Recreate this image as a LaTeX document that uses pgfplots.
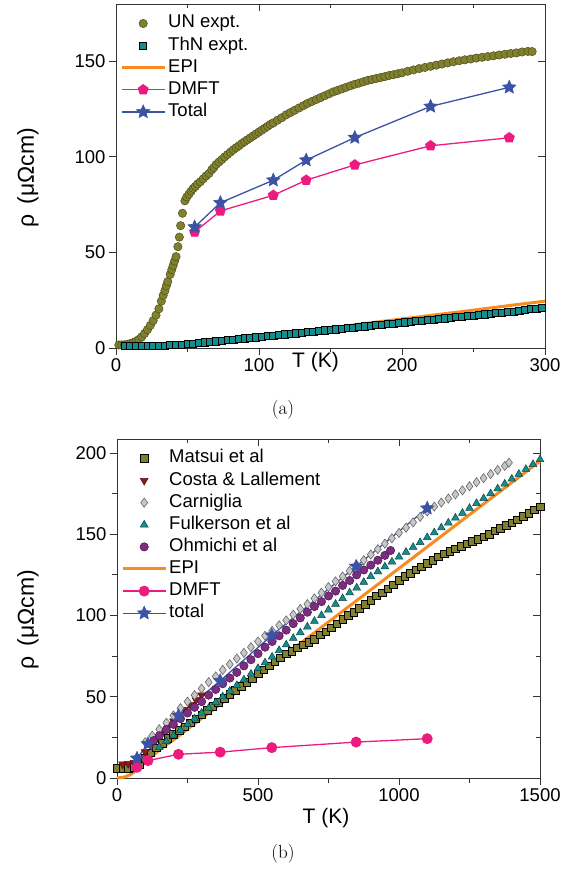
\documentclass[border=0pt]{standalone}
\usepackage{fontspec}
\setsansfont{Liberation Sans}
\usepackage{pgfplots}
\pgfplotsset{compat=1.18}
\definecolor{olive1}{HTML}{80802F}
\definecolor{olive1e}{HTML}{4F4F1C}
\definecolor{teal1}{HTML}{168C8C}
\definecolor{epi}{HTML}{F68B1F}
\definecolor{dmft}{HTML}{EC1C7E}
\definecolor{tot}{HTML}{3A53A4}
\definecolor{costa}{HTML}{8B1A1A}
\definecolor{carn}{HTML}{C8C8C8}
\definecolor{purp}{HTML}{7E2B82}
\pgfdeclareplotmark{fstar}{%
  \pgfpathmoveto{\pgfpointpolar{90}{\pgfplotmarksize}}%
  \pgfpathlineto{\pgfpointpolar{126}{0.47\pgfplotmarksize}}%
  \pgfpathlineto{\pgfpointpolar{162}{\pgfplotmarksize}}%
  \pgfpathlineto{\pgfpointpolar{198}{0.47\pgfplotmarksize}}%
  \pgfpathlineto{\pgfpointpolar{234}{\pgfplotmarksize}}%
  \pgfpathlineto{\pgfpointpolar{270}{0.47\pgfplotmarksize}}%
  \pgfpathlineto{\pgfpointpolar{306}{\pgfplotmarksize}}%
  \pgfpathlineto{\pgfpointpolar{342}{0.47\pgfplotmarksize}}%
  \pgfpathlineto{\pgfpointpolar{18}{\pgfplotmarksize}}%
  \pgfpathlineto{\pgfpointpolar{54}{0.47\pgfplotmarksize}}%
  \pgfpathclose
  \pgfusepathqfillstroke}
\pgfplotsset{
  myaxis/.style={
    scale only axis,
    clip=false,
    axis line style={line width=0.9pt, black!80},
    every tick/.style={line width=0.9pt, black!80},
    major tick length=7pt, minor tick length=4.5pt,
    tick align=outside,
    xtick pos=bottom, ytick pos=left,
    tick label style={font=\sffamily\fontsize{18.5}{18.5}\selectfont},
    /pgf/number format/assume math mode=true,
    /pgf/number format/1000 sep={},
    label style={font=\sffamily\fontsize{21}{21}\selectfont},
    ylabel style={font=\sffamily\fontsize{23}{23}\selectfont},
    legend style={draw=none, fill=none, inner xsep=0pt, inner ysep=0pt,
      at={(axis description cs:0,1)}, anchor=north west, xshift=4pt, yshift=-9pt,
      font=\sffamily\fontsize{18.5}{18.5}\selectfont,
      nodes={inner sep=2pt, text height=12.8pt, text depth=3.8pt},
      row sep=1.5pt},
    legend cell align=left,
    legend image code/.code={\draw[mark repeat=2,mark phase=2,#1] plot coordinates {(0pt,0pt) (21.5pt,0pt) (43pt,0pt)};},
  },
  mirror/.style={
    scale only axis,
    axis line style={draw=none},
    every tick/.style={line width=0.9pt, black!80},
    major tick length=7pt, minor tick length=4.5pt,
    tick align=inside,
    xtick pos=top, ytick pos=right,
    xticklabels={}, yticklabels={},
  },
}
\begin{document}
\begin{tikzpicture}
\path[use as bounding box] (0,0) rectangle (577pt,869pt);
% ---------------- panel (a) ----------------
\begin{axis}[myaxis, at={(116pt,521pt)}, anchor=south west,
  width=429pt, height=344pt,
  xmin=0, xmax=300, ymin=0, ymax=180,
  xtick={0,100,200,300}, ytick={0,50,100,150},
  minor x tick num=1,
  xlabel={T (K)}, ylabel={ρ\hspace{0.45em}(μΩcm)},
  xlabel style={at={(axis description cs:0.465,0)}, anchor=center, yshift=-14.5pt},
  ylabel style={at={([xshift=-88pt]axis description cs:0,0.494)}, anchor=center},
]
\addplot[only marks, mark=*, mark size=4.2pt, mark options={fill=olive1, draw=olive1e, line width=0.5pt}] coordinates {
(2,1.6)(4,1.6)(6,1.7)(8,1.9)(10,2.3)(12,2.8)(14,3.5)(16,4.5)(18,5.8)(20,7.6)(22,9.6)(24,11.8)(26,14.3)(28,17.2)(30,20.5)(31.7,24.5)(33,27.5)(34.2,30)(35.2,32.5)(36.2,34.8)(37.9,38.5)(39,41)(40,43.2)(41,45.5)(42,47.8)(43.3,53)(44.3,58)(45.2,64)(46.5,70.5)(48.2,77)(49.5,79)(51,80.5)(52.5,82)(54,83.5)(55.5,84.5)(57,85.8)(59,87)(61,88.5)(63,90)(65,91.3)(67,93.3)(68.5,94.5)(70,96)(72,97.3)(74,98.6)(76,100)(78,101.2)(80,102.5)(82,103.7)(84,104.8)(86,105.8)(88,107)(90,108)(92,109)(94,110)(96,111)(98,112)(100,113)(102,114)(104,115)(106,116)(108,117)(110,117.8)(113,119.2)(116,120.5)(119,122)(122,123.2)(125,124.4)(128,125.6)(131,126.8)(134,128)(137,129)(140,130)(143,131)(146,132)(149,133)(152,134)(155,134.8)(158,135.6)(161,136.4)(164,137.2)(167,138)(170,138.6)(173,139.3)(176,140)(179,140.5)(182,141)(185,141.5)(188,142)(191,142.6)(194,143)(197,143.5)(200,144)(204,144.8)(208,145.5)(212,146.2)(216,146.8)(220,147.4)(224,148)(228,148.6)(232,149.2)(236,149.8)(240,150.3)(244,150.8)(248,151.2)(252,151.7)(256,152.1)(260,152.5)(264,152.9)(268,153.3)(272,153.7)(276,154.1)(280,154.4)(284,154.9)(288,155.2)(291,155.1)
};
\addlegendentry{UN expt.}
\addplot[only marks, mark=square*, mark size=3.6pt, mark options={fill=teal1, draw=black, line width=0.7pt}] coordinates {
(6,1.0)(10,1.0)(14,1.0)(18,1.0)(22,1.1)(26,1.1)(30,1.2)(34,1.3)(38,1.5)(42,1.6)(46,1.8)(50,2.0)(54,2.3)(58,2.6)(62,2.9)(66,3.2)(70,3.5)(74,3.8)(78,4.1)(82,4.4)(86,4.7)(90,5.0)(94,5.3)(98,5.6)(102,5.9)(106,6.2)(110,6.4)(114,6.8)(118,7.1)(122,7.4)(126,7.7)(130,8.0)(134,8.3)(138,8.5)(142,8.9)(146,9.2)(150,9.5)(154,9.8)(158,10.1)(162,10.4)(166,10.6)(170,11.0)(174,11.3)(178,11.6)(182,11.9)(186,12.2)(190,12.5)(194,12.8)(198,13.0)(202,13.4)(206,13.7)(210,14.0)(214,14.3)(218,14.6)(222,14.9)(226,15.2)(230,15.5)(234,15.8)(238,16.1)(242,16.4)(246,16.8)(250,17.0)(254,17.3)(258,17.6)(262,17.9)(266,18.2)(270,18.5)(274,18.8)(278,19.1)(282,19.5)(286,19.9)(290,20.3)(294,20.6)(298,20.9)
};
\addlegendentry{ThN expt.}
\addplot[epi, line width=3pt] coordinates {
(10,0)(20,0.05)(30,0.3)(40,0.9)(50,1.7)(60,2.5)(70,3.4)(80,4.2)(90,5.0)(100,5.9)(125,8.2)(150,10.5)(175,12.9)(200,15.2)(225,17.5)(250,19.8)(275,22.2)(300,24.5)
};
\addlegendentry{EPI}
\addplot[dmft, line width=1.3pt, mark=pentagon*, mark size=5pt, mark options={fill=dmft, draw=dmft}] coordinates {
(55,60.7)(73,71.7)(110,79.9)(133,87.8)(167,95.8)(220,105.8)(275,110)
};
\addlegendentry{DMFT}
\addplot[tot, line width=1.3pt, mark=fstar, mark size=7pt, mark options={fill=tot, draw=tot, line width=0.6pt}] coordinates {
(55,63.3)(73,76)(110,87.8)(133,98.3)(167,110.1)(220,126.4)(275,136.4)
};
\addlegendentry{Total}
\end{axis}
\begin{axis}[mirror, at={(116pt,521pt)}, anchor=south west,
  width=429pt, height=344pt,
  xmin=0, xmax=300, ymin=0, ymax=180,
  xtick={0,100,200,300}, ytick={0,50,100,150}, minor x tick num=1]
\end{axis}
\node[font=\rmfamily\fontsize{19}{19}\selectfont] at (283pt,459pt) {(a)};
% ---------------- panel (b) ----------------
\begin{axis}[myaxis, at={(117pt,91pt)}, anchor=south west,
  width=423pt, height=339pt,
  xmin=0, xmax=1500, ymin=0, ymax=208.6,
  xtick={0,500,1000,1500}, ytick={0,50,100,150,200},
  minor x tick num=1, minor y tick num=1,
  xlabel={T (K)}, ylabel={ρ\hspace{0.45em}(μΩcm)},
  xlabel style={at={(axis description cs:0.494,0)}, anchor=center, yshift=-40pt},
  ylabel style={at={([xshift=-89pt]axis description cs:0,0.466)}, anchor=center},
]
\addplot[only marks, mark=square*, mark size=3.8pt, mark options={fill=olive1, draw=black, line width=0.6pt}] coordinates {
(0,5.8)(20,5.8)(40,6)(60,6.5)(80,8)(100,12)(120,15.5)(140,18.5)(160,21.5)(180,24.5)(200,27)(220,29.5)(240,31.5)(260,34)(280,36.5)(300,39)(320,41.5)(340,44)(360,46.5)(380,49)(400,51.5)(420,54)(440,56.5)(460,59)(480,61.5)(500,64)(520,66.5)(540,69)(560,71.5)(580,74)(600,76.5)(620,78)(640,80)(660,82)(680,83.5)(700,85.5)(720,88)(740,90)(760,92.5)(780,95)(800,97.5)(820,100)(840,102)(860,104.5)(880,107)(900,109.5)(920,112)(940,114)(960,116.5)(980,119)(1000,121.5)(1020,124)(1040,126)(1060,128)(1080,130)(1100,132)(1120,134)(1140,136)(1160,138)(1180,139.5)(1200,141)(1220,142.5)(1240,144)(1260,145.5)(1280,147)(1300,148.5)(1320,150)(1340,152)(1360,153.5)(1380,155.5)(1400,157)(1420,159)(1440,161)(1460,163)(1480,165)(1500,167)
};
\addlegendentry{Matsui et al}
\addplot[only marks, mark=triangle*, mark size=4.5pt, mark options={rotate=180, fill=costa, draw=costa!60!black, line width=0.5pt}] coordinates {
(20,8.5)(40,8.8)(60,9.5)(80,12)(100,16)(120,20)(140,24)(160,28)(180,31.5)(200,35)(220,38.5)(240,42)(260,45)(280,48)(300,51)
};
\addlegendentry{Costa \& Lallement}
\addplot[only marks, mark=diamond*, mark size=4.6pt, mark options={fill=carn, draw=black!60, line width=0.6pt}] coordinates {
(100,22)(125,26)(150,30)(175,34)(200,38.5)(225,43)(250,47)(275,51)(300,55)(325,59)(350,62.5)(375,66.5)(400,70)(425,73.5)(450,77)(475,80.5)(500,84)(525,87.5)(550,90.5)(575,94)(600,97)(625,100.5)(650,104)(675,107)(700,110.5)(725,114)(750,117.5)(775,121)(800,124)(825,127.5)(850,131)(875,134)(900,137.5)(925,140.8)(950,144.2)(975,147.5)(1000,150.8)(1025,154)(1050,157.3)(1075,160.7)(1100,164)(1125,167)(1150,169.5)(1175,172)(1200,174.5)(1225,177)(1250,179.5)(1275,182)(1300,184.5)(1325,187)(1350,189.5)(1375,192)(1390,194)
};
\addlegendentry{Carniglia}
\addplot[only marks, mark=triangle*, mark size=4.5pt, mark options={fill=teal1, draw=teal1!50!black, line width=0.5pt}] coordinates {
(150,19)(175,22.5)(200,26)(225,29.5)(250,33)(275,36.5)(300,40)(325,43)(350,46.5)(375,50)(400,53.5)(425,57)(450,60.5)(475,64)(500,67.5)(525,71)(550,74.5)(575,78.5)(600,82)(625,86)(650,89.5)(675,93)(700,96.5)(725,100)(750,103.5)(775,107)(800,110.5)(825,114)(850,117)(875,120.5)(900,124)(925,127)(950,130)(975,133)(1000,136)(1025,139)(1050,142)(1075,145)(1100,148)(1125,151)(1150,154)(1175,157)(1200,160)(1225,163)(1250,166)(1275,169)(1300,172)(1325,175)(1350,178)(1375,181)(1400,184)(1425,187)(1450,190)(1475,193)(1500,196)
};
\addlegendentry{Fulkerson et al}
\addplot[only marks, mark=*, mark size=4.2pt, mark options={fill=purp, draw=purp!55!black, line width=0.5pt}] coordinates {
(130,23)(150,26)(175,29.8)(200,33)(225,36.5)(250,40)(275,43.5)(300,47)(325,51)(350,54.5)(375,58)(400,61.5)(425,65)(450,69)(475,72.8)(500,76.5)(525,80.5)(550,84)(575,87.5)(600,91)(625,95)(650,98.5)(675,102)(700,105.5)(725,108.5)(750,112)(775,115)(800,118.5)(825,121.5)(850,125)(875,128)(900,131)(925,134)(950,137)(970,140)
};
\addlegendentry{Ohmichi et al}
\addplot[epi, line width=3pt] coordinates {
(0,0)(25,0.5)(50,2.3)(75,5.5)(100,9.5)(125,13.5)(150,17.2)(200,23.4)(300,36.6)(500,63)(700,89.4)(1000,129)(1250,162)(1500,195)
};
\addlegendentry{EPI}
\addplot[dmft, line width=1.3pt, mark=*, mark size=4.8pt, mark options={fill=dmft, draw=dmft}] coordinates {
(71,6.6)(110,10.7)(218,14.6)(366,15.9)(549,18.7)(848,22.1)(1100,24.2)
};
\addlegendentry{DMFT}
\addplot[tot, line width=1.3pt, mark=fstar, mark size=7pt, mark options={fill=tot, draw=tot, line width=0.6pt}] coordinates {
(71,12.1)(110,21)(218,38.4)(366,59.8)(549,87.8)(848,130.2)(1100,166)
};
\addlegendentry{total}
\end{axis}
\begin{axis}[mirror, at={(117pt,91pt)}, anchor=south west,
  width=423pt, height=339pt,
  xmin=0, xmax=1500, ymin=0, ymax=208.6,
  xtick={0,500,1000,1500}, ytick={0,50,100,150,200},
  minor x tick num=1, minor y tick num=1]
\end{axis}
\node[font=\rmfamily\fontsize{19}{19}\selectfont] at (283pt,15pt) {(b)};
\end{tikzpicture}
\end{document}
